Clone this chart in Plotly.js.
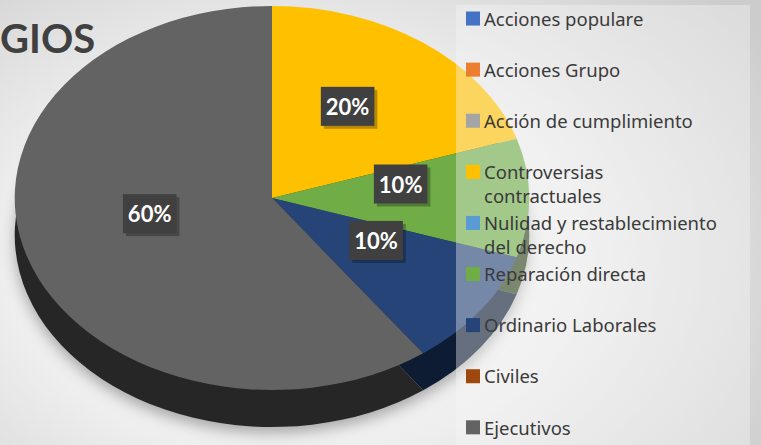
<!DOCTYPE html>
<html><head><meta charset="utf-8">
<script src="https://cdn.plot.ly/plotly-3.0.1.min.js"></script>
<style>
html,body{margin:0;padding:0;}
body{width:761px;height:445px;overflow:hidden;background:radial-gradient(ellipse 75% 90% at 38% 58%, #fafafa 0%, #eeeeee 50%, #cccccc 100%);}
#chart{width:761px;height:445px;}
</style></head><body><div id="chart"></div>
<script>
// ---- data ----
const categories = ['Acciones populare', 'Acciones Grupo', 'Acción de cumplimiento',
  'Controversias<br>contractuales', 'Nulidad y restablecimiento<br>del derecho',
  'Reparación directa', 'Ordinario Laborales', 'Civiles', 'Ejecutivos'];
const values = [0, 0, 0, 2, 0, 1, 1, 0, 6];
const colors = ['#4472C4', '#ED7D31', '#A5A5A5', '#FFC000', '#5B9BD5', '#70AD47', '#264478', '#9E480E', '#636363'];
const titleText = 'GIOS';

// ---- build ----
const W = 761, H = 445;
const total = values.reduce((a, b) => a + b, 0);
const pctText = values.map(v => v > 0 ? Math.round(100 * v / total) + '%' : '');
const legendLabels = categories.map((c, i) => (c.indexOf('<br>') >= 0 || i === categories.length - 1) ? c : c + '<br> ');
function darken(hex, f) {
  const n = parseInt(hex.slice(1), 16);
  const r = Math.round(((n >> 16) & 255) * f), g = Math.round(((n >> 8) & 255) * f), b = Math.round((n & 255) * f);
  return 'rgb(' + r + ',' + g + ',' + b + ')';
}
const sideColors = colors.map(c => darken(c, 0.4));

const R = 192, CX = 272, CY = 198, DEPTH = 37, SX = 1.34, LABEL_LIFT = 14;
function dom(cx, cy) {
  return {x: [(cx - R) / W, (cx + R) / W], y: [(H - cy - R) / H, (H - cy + R) / H]};
}

const base = {
  type: 'pie', labels: legendLabels, values: values, sort: false,
  direction: 'clockwise', rotation: 0, hoverinfo: 'skip'
};
const back = Object.assign({}, base, {
  marker: {colors: sideColors, line: {width: 0}},
  textinfo: 'none', showlegend: false, domain: dom(CX, CY + DEPTH)
});
const front = Object.assign({}, base, {
  marker: {colors: colors, line: {width: 0}},
  text: pctText, textinfo: 'text', textposition: 'inside',
  insidetextorientation: 'horizontal',
  textfont: {family: 'Lato', size: 22, color: '#ffffff', weight: 'bold'},
  showlegend: true, domain: dom(CX, CY)
});

const layout = {
  width: W, height: H, margin: {l: 0, r: 0, t: 0, b: 0, autoexpand: false},
  paper_bgcolor: 'rgba(0,0,0,0)', plot_bgcolor: 'rgba(0,0,0,0)',
  title: {text: titleText, x: 0, xref: 'container', xanchor: 'left',
    y: 1 - 25 / H, yref: 'container', yanchor: 'top',
    font: {family: 'Lato', size: 40, weight: 'bold', color: '#404040'}},
  showlegend: true,
  legend: {x: 444 / W, xref: 'paper', xanchor: 'left', y: 1, yref: 'paper', yanchor: 'top',
    valign: 'top', bgcolor: 'rgba(0,0,0,0)', borderwidth: 0, traceorder: 'normal',
    font: {family: 'Noto Sans', size: 18.5, color: '#3a3a3a'}},
  shapes: [{type: 'rect', xref: 'paper', yref: 'paper', layer: 'above',
    x0: 456 / W, x1: 750 / W, y0: 0, y1: 1 - 5 / H,
    fillcolor: 'rgba(246,246,246,0.38)', line: {width: 0}}]
};

const gd = document.getElementById('chart');
Plotly.newPlot(gd, [back, front], layout, {staticPlot: true, displayModeBar: false}).then(function () {
  const NS = 'http://www.w3.org/2000/svg';
  // soft shadow under the pie body
  const defs = gd.querySelector('svg.main-svg defs');
  if (defs) {
    const f = document.createElementNS(NS, 'filter');
    f.setAttribute('id', 'pieShadow');
    f.setAttribute('x', '-20%'); f.setAttribute('y', '-20%'); f.setAttribute('width', '140%'); f.setAttribute('height', '140%');
    const ds = document.createElementNS(NS, 'feDropShadow');
    ds.setAttribute('dx', '0'); ds.setAttribute('dy', '6'); ds.setAttribute('stdDeviation', '7');
    ds.setAttribute('flood-color', '#000'); ds.setAttribute('flood-opacity', '0.3');
    f.appendChild(ds); defs.appendChild(f);
  }
  const tgs = gd.querySelectorAll('.pielayer g.trace');
  tgs.forEach(function (tg, ti) {
    const cd0 = gd.calcdata[ti][0];
    const cx = cd0.cx, cy = cd0.cy, r = cd0.r;
    tg.querySelectorAll('g.slice path.surface').forEach(function (p) {
      p.setAttribute('transform', 'translate(' + cx + ',' + cy + ') scale(' + SX + ',1) translate(' + (-cx) + ',' + (-cy) + ')');
    });
    if (ti === 0) { tg.setAttribute('filter', 'url(#pieShadow)'); return; }
    tg.querySelectorAll('g.slice').forEach(function (sl) {
      const pt = sl.__data__;
      const txt = sl.querySelector('g.slicetext text');
      if (!pt || !txt || !txt.textContent) return;
      const len = Math.hypot(pt.pxmid[0], pt.pxmid[1]) || 1;
      const ux = pt.pxmid[0] / len, uy = pt.pxmid[1] / len;
      const tx = cx + SX * 0.5 * r * ux, ty = cy - LABEL_LIFT + 0.5 * r * uy;
      txt.setAttribute('transform', '');
      const bb = txt.getBBox();
      const tr = 'translate(' + (tx - (bb.x + bb.width / 2)) + ',' + (ty - (bb.y + bb.height / 2)) + ')';
      txt.setAttribute('transform', tr);
      const px = 5, py = 6;
      const sh = document.createElementNS(NS, 'rect');
      sh.setAttribute('x', bb.x - px + 3); sh.setAttribute('y', bb.y - py + 3);
      sh.setAttribute('width', bb.width + 2 * px); sh.setAttribute('height', bb.height + 2 * py);
      sh.setAttribute('fill', 'rgba(0,0,0,0.28)'); sh.setAttribute('transform', tr);
      const bx = document.createElementNS(NS, 'rect');
      bx.setAttribute('x', bb.x - px); bx.setAttribute('y', bb.y - py);
      bx.setAttribute('width', bb.width + 2 * px); bx.setAttribute('height', bb.height + 2 * py);
      bx.setAttribute('fill', '#404040'); bx.setAttribute('transform', tr);
      txt.parentNode.insertBefore(sh, txt);
      txt.parentNode.insertBefore(bx, txt);
    });
  });
  // slightly larger legend swatches, nearer the text
  gd.querySelectorAll('.legend .legendpoints path').forEach(function (p) {
    const t = p.getAttribute('transform') || '';
    p.setAttribute('transform', t + ' translate(9,0) scale(1.17)');
  });
});
</script></body></html>
